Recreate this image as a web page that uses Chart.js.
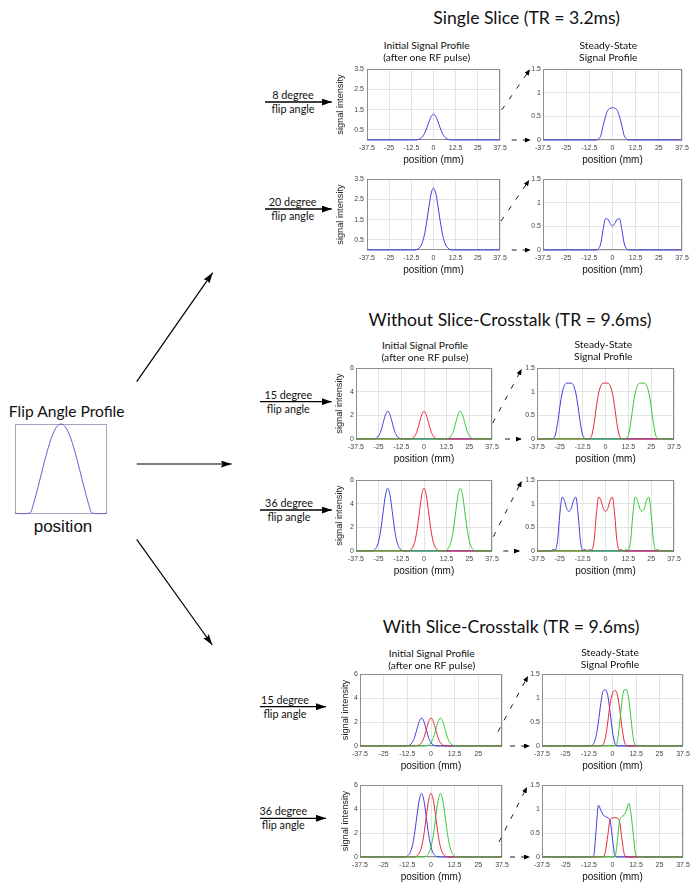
<!DOCTYPE html>
<html><head><meta charset="utf-8">
<script src="https://cdn.jsdelivr.net/npm/chart.js@4.4.1/dist/chart.umd.min.js"></script>
<style>
html,body{margin:0;padding:0;background:#fff;}
#page{position:relative;width:698px;height:891px;overflow:hidden;background:#fff;}
.cw{position:absolute;}
.txt{position:absolute;white-space:nowrap;transform:translate(-50%,-50%);line-height:1;color:#111;}
#arrows{position:absolute;left:0;top:0;}
</style></head>
<body><div id="page"></div>
<script>
// ---------------- DATA ----------------
const X_TICKS = [-37.5,-25,-12.5,0,12.5,25,37.5];
const Y_TICKS_SINGLE_INITIAL = [0.5,1.5,2.5,3.5];
const Y_TICKS_MULTI_INITIAL = [0,2,4,6];
const Y_TICKS_STEADY = [0,0.5,1,1.5];

// Flip angle profile (normalised position)
const FLIP_POS = [-1,-0.95,-0.9,-0.85,-0.8,-0.75,-0.7,-0.65,-0.6,-0.55,-0.5,-0.45,-0.4,-0.35,-0.3,-0.25,-0.2,-0.15,-0.1,-0.05,0,0.05,0.1,0.15,0.2,0.25,0.3,0.35,0.4,0.45,0.5,0.55,0.6,0.65,0.7,0.75,0.8,0.85,0.9,0.95,1];
const FLIP_VALUES = [-0.004,-0.006,-0.008,-0.008,-0.008,-0.006,-0.003,0.015,0.099,0.191,0.290,0.393,0.496,0.597,0.693,0.780,0.856,0.917,0.963,0.991,1.000,0.991,0.963,0.917,0.856,0.780,0.693,0.597,0.496,0.393,0.290,0.191,0.099,0.015,-0.003,-0.006,-0.008,-0.008,-0.008,-0.006,-0.004];

// Single slice (TR = 3.2ms), position in mm
const POS_SINGLE = [-37.5,-10,-8.75,-7.5,-6.25,-5,-3.75,-2.5,-1.25,0,1.25,2.5,3.75,5,6.25,7.5,8.75,10,37.5];
const single8Initial  = [0,0,0.02,0.06,0.16,0.33,0.60,0.91,1.17,1.27,1.17,0.91,0.60,0.33,0.16,0.06,0.02,0,0];
const single8Steady   = [0,0,0,0.02,0.10,0.31,0.50,0.63,0.67,0.68,0.67,0.63,0.50,0.31,0.10,0.02,0,0,0];
const single20Initial = [0,0,0.05,0.15,0.38,0.80,1.44,2.18,2.81,3.05,2.81,2.18,1.44,0.80,0.38,0.15,0.05,0,0];
const single20Steady  = [0,0,0,0.03,0.15,0.45,0.66,0.65,0.56,0.51,0.56,0.65,0.66,0.45,0.15,0.03,0,0,0];

// Without slice-crosstalk (TR = 9.6ms)
const POS_NO_XTALK = [-37.5,-30,-28.75,-27.5,-26.25,-25,-23.75,-22.5,-21.25,-20,-18.75,-17.5,-16.25,-15,-13.75,-12.5,-11.25,-10,-8.75,-7.5,-6.25,-5,-3.75,-2.5,-1.25,0,1.25,2.5,3.75,5,6.25,7.5,8.75,10,11.25,12.5,13.75,15,16.25,17.5,18.75,20,21.25,22.5,23.75,25,26.25,27.5,28.75,30,37.5];
const noXt15InitialBlue = [0,0,0,0.02,0.08,0.27,0.69,1.37,2.05,2.35, 2.05,1.37,0.69,0.27,0.08,0.02,0,0,0,0, 0,0,0,0,0,0,0,0,0,0, 0,0,0,0,0,0,0,0,0,0, 0,0,0,0,0,0,0,0,0,0, 0];
const noXt15InitialRed  = [0,0,0,0,0,0,0,0,0,0, 0,0,0,0,0,0,0,0,0,0.02, 0.08,0.27,0.69,1.37,2.05,2.35,2.05,1.37,0.69,0.27, 0.08,0.02,0,0,0,0,0,0,0,0, 0,0,0,0,0,0,0,0,0,0, 0];
const noXt15InitialGreen= [0,0,0,0,0,0,0,0,0,0, 0,0,0,0,0,0,0,0,0,0, 0,0,0,0,0,0,0,0,0,0, 0,0,0,0,0,0.02,0.08,0.27,0.69,1.37, 2.05,2.35,2.05,1.37,0.69,0.27,0.08,0.02,0,0, 0];
const noXt15SteadyBlue  = [0,0,0.01,0.08,0.33,0.68,0.97,1.13,1.18,1.18, 1.18,1.13,0.97,0.68,0.33,0.08,0.01,0,0,0, 0,0,0,0,0,0,0,0,0,0, 0,0,0,0,0,0,0,0,0,0, 0,0,0,0,0,0,0,0,0,0, 0];
const noXt15SteadyRed   = [0,0,0,0,0,0,0,0,0,0, 0,0,0,0,0,0,0,0,0.01,0.08, 0.33,0.68,0.97,1.13,1.18,1.18,1.18,1.13,0.97,0.68, 0.33,0.08,0.01,0,0,0,0,0,0,0, 0,0,0,0,0,0,0,0,0,0, 0];
const noXt15SteadyGreen = [0,0,0,0,0,0,0,0,0,0, 0,0,0,0,0,0,0,0,0,0, 0,0,0,0,0,0,0,0,0,0, 0,0,0,0,0.01,0.08,0.33,0.68,0.97,1.13, 1.18,1.18,1.18,1.13,0.97,0.68,0.33,0.08,0.01,0, 0];
const noXt36InitialBlue = [0,0,0.01,0.08,0.30,0.83,1.87,3.34,4.72,5.30, 4.72,3.34,1.87,0.83,0.30,0.08,0.01,0,0,0, 0,0,0,0,0,0,0,0,0,0, 0,0,0,0,0,0,0,0,0,0, 0,0,0,0,0,0,0,0,0,0, 0];
const noXt36InitialRed  = [0,0,0,0,0,0,0,0,0,0, 0,0,0,0,0,0,0,0,0.01,0.08, 0.30,0.83,1.87,3.34,4.72,5.30,4.72,3.34,1.87,0.83, 0.30,0.08,0.01,0,0,0,0,0,0,0, 0,0,0,0,0,0,0,0,0,0, 0];
const noXt36InitialGreen= [0,0,0,0,0,0,0,0,0,0, 0,0,0,0,0,0,0,0,0,0, 0,0,0,0,0,0,0,0,0,0, 0,0,0,0,0.01,0.08,0.30,0.83,1.87,3.34, 4.72,5.30,4.72,3.34,1.87,0.83,0.30,0.08,0.01,0, 0];
const noXt36SteadyBlue  = [0,0,0.03,0.02,0.22,0.78,1.14,1.07,0.90,0.84, 0.90,1.07,1.14,0.78,0.22,0.02,0.03,0,0,0, 0,0,0,0,0,0,0,0,0,0, 0,0,0,0,0,0,0,0,0,0, 0,0,0,0,0,0,0,0,0,0, 0];
const noXt36SteadyRed   = [0,0,0,0,0,0,0,0,0,0, 0,0,0,0,0,0,0,0,0.03,0.02, 0.22,0.78,1.14,1.07,0.90,0.84,0.90,1.07,1.14,0.78, 0.22,0.02,0.03,0,0,0,0,0,0,0, 0,0,0,0,0,0,0,0,0,0, 0];
const noXt36SteadyGreen = [0,0,0,0,0,0,0,0,0,0, 0,0,0,0,0,0,0,0,0,0, 0,0,0,0,0,0,0,0,0,0, 0,0,0,0,0.03,0.02,0.22,0.78,1.14,1.07, 0.90,0.84,0.90,1.07,1.14,0.78,0.22,0.02,0.03,0, 0];

// With slice-crosstalk (TR = 9.6ms)
const POS_XTALK = [-37.5,-20,-18.75,-17.5,-16.25,-15,-13.75,-12.5,-11.25,-10,-8.75,-7.5,-6.25,-5,-3.75,-2.5,-1.25,0,1.25,2.5,3.75,5,6.25,7.5,8.75,10,11.25,12.5,13.75,15,16.25,17.5,18.75,20,37.5];
const xt15InitialBlue = [0,0,0,0,0,0,0,0.02,0.08,0.27, 0.69,1.36,2.03,2.33,2.03,1.36,0.69,0.27,0.08,0.02, 0,0,0,0,0,0,0,0,0,0, 0,0,0,0,0];
const xt15InitialRed  = [0,0,0,0,0,0,0,0,0,0, 0,0.02,0.08,0.27,0.69,1.36,2.03,2.33,2.03,1.36, 0.69,0.27,0.08,0.02,0,0,0,0,0,0, 0,0,0,0,0];
const xt15InitialGreen= [0,0,0,0,0,0,0,0,0,0, 0,0,0,0,0,0.02,0.08,0.27,0.69,1.36, 2.03,2.33,2.03,1.36,0.69,0.27,0.08,0.02,0,0, 0,0,0,0,0];
const xt15SteadyBlue  = [0,0,0,0,0,0,0,0,0.01,0.05, 0.20,0.50,0.88,1.15,1.17,1.05,0.70,0.30,0.06,0, 0,0,0,0,0,0,0,0,0,0, 0,0,0,0,0];
const xt15SteadyRed   = [0,0,0,0,0,0,0,0,0,0, 0,0,0,0.03,0.18,0.50,0.88,1.10,1.16,1.08, 0.80,0.40,0.10,0.01,0,0,0,0,0,0, 0,0,0,0,0];
const xt15SteadyGreen = [0,0,0,0,0,0,0,0,0,0, 0,0,0,0,0,0,0,0,0,0.08, 0.45,0.92,1.17,1.17,0.95,0.50,0.12,0.01,0,0, 0,0,0,0,0];
const xt36InitialBlue = [0,0,0,0,0,0,0.01,0.08,0.30,0.83, 1.87,3.34,4.72,5.30,4.72,3.34,1.87,0.83,0.30,0.08, 0.01,0,0,0,0,0,0,0,0,0, 0,0,0,0,0];
const xt36InitialRed  = [0,0,0,0,0,0,0,0,0,0, 0.01,0.08,0.30,0.83,1.87,3.34,4.72,5.30,4.72,3.34, 1.87,0.83,0.30,0.08,0.01,0,0,0,0,0, 0,0,0,0,0];
const xt36InitialGreen= [0,0,0,0,0,0,0,0,0,0, 0,0,0,0,0.01,0.08,0.30,0.83,1.87,3.34, 4.72,5.30,4.72,3.34,1.87,0.83,0.30,0.08,0.01,0, 0,0,0,0,0];
const xt36SteadyBlue  = [0,0,0,0,0,0,0,0,0,0.03, 0.55,1.08,0.98,0.88,0.84,0.82,0.75,0.38,0.03,0, 0,0,0,0,0,0,0,0,0,0, 0,0,0,0,0];
const xt36SteadyRed   = [0,0,0,0,0,0,0,0,0,0, 0,0,0,0,0.12,0.45,0.78,0.81,0.82,0.81, 0.74,0.38,0.06,0,0,0,0,0,0,0, 0,0,0,0,0];
const xt36SteadyGreen = [0,0,0,0,0,0,0,0,0,0, 0,0,0,0,0,0,0,0,0,0.30, 0.75,0.84,0.88,0.98,1.12,0.85,0.40,0.03,0,0, 0,0,0,0,0];

// ---------------- DRAWING ----------------
const BLUE = 'rgb(62,62,222)', RED = 'rgb(232,38,58)', GREEN = 'rgb(52,200,52)';
const SANS = "'Liberation Sans', Arial, sans-serif";
const HUMAN = "Lato, 'Open Sans', sans-serif";
const page = document.getElementById('page');

const boxPlugin = {
  id: 'boxBorder',
  beforeDatasetsDraw(chart, args, opts) {
    const {ctx, chartArea: a} = chart;
    ctx.save();
    ctx.strokeStyle = opts.color || '#8e8e8e';
    ctx.lineWidth = 1;
    ctx.strokeRect(Math.round(a.left) + 0.5, Math.round(a.top) + 0.5, Math.round(a.right - a.left) - 1, Math.round(a.bottom - a.top) - 1);
    ctx.restore();
  }
};

function addCanvas(left, top, w, h) {
  const div = document.createElement('div');
  div.className = 'cw';
  Object.assign(div.style, {left: left + 'px', top: top + 'px', width: w + 'px', height: h + 'px'});
  const cv = document.createElement('canvas');
  cv.width = w; cv.height = h;
  cv.style.width = w + 'px'; cv.style.height = h + 'px';
  div.appendChild(cv);
  page.appendChild(div);
  return cv;
}

function makePlot(o) {
  const padT = 8, padR = 12, padB = 26;
  const W = (o.R - o.L) + o.padL + padR;
  const H = (o.B - o.T) + padT + padB;
  const cv = addCanvas(o.L - o.padL, o.T - padT, W, H);
  const datasets = o.series.map((s, i) => ({
    data: o.xs.map((x, k) => ({x: x, y: s.vals[k]})),
    borderColor: s.color, borderWidth: 1, pointRadius: 0, fill: false,
    cubicInterpolationMode: 'monotone', clip: false, order: o.series.length - i
  }));
  new Chart(cv, {
    type: 'line',
    data: {datasets},
    options: {
      responsive: false, animation: false, devicePixelRatio: 1,
      layout: {padding: {left: 0, top: padT, right: padR, bottom: 0}},
      plugins: {legend: {display: false}, tooltip: {enabled: false}, boxBorder: {color: '#8e8e8e'}},
      scales: {
        x: {
          type: 'linear', min: -37.5, max: 37.5,
          afterBuildTicks: s => { s.ticks = X_TICKS.map(v => ({value: v})); },
          afterFit: s => { s.height = padB; },
          grid: {color: '#e4e4e4', drawTicks: false, lineWidth: 1},
          border: {display: false},
          ticks: {autoSkip: false, maxRotation: 0, minRotation: 0, padding: 4,
                  font: {size: 7, family: SANS}, color: '#444',
                  callback: v => (o.hideLastX && v === 37.5) ? '' : String(v)},
          title: {display: true, text: 'position (mm)', font: {size: 10, family: SANS}, color: '#111', padding: {top: 0, bottom: 0}}
        },
        y: {
          type: 'linear', min: 0, max: o.yMax,
          afterBuildTicks: s => { s.ticks = o.yTicks.map(v => ({value: v})); },
          afterFit: s => { s.width = o.padL; },
          grid: {color: '#e4e4e4', drawTicks: false, lineWidth: 1},
          border: {display: false},
          ticks: {padding: o.yPad, font: {size: 7, family: SANS}, color: '#444', callback: v => String(v)},
          title: {display: !!o.yTitle, text: 'signal intensity', font: {size: 9.2, family: SANS}, color: '#222', padding: {top: 0, bottom: 0}}
        }
      }
    },
    plugins: [boxPlugin]
  });
}

// flip angle profile
(function () {
  const cv = addCanvas(14, 423, 94, 92);
  new Chart(cv, {
    type: 'line',
    data: {datasets: [{data: FLIP_POS.map((x, k) => ({x: x, y: FLIP_VALUES[k]})), borderColor: 'rgb(96,96,210)', borderWidth: 1, pointRadius: 0, cubicInterpolationMode: 'monotone', clip: false}]},
    options: {
      responsive: false, animation: false, devicePixelRatio: 1,
      layout: {padding: 1},
      plugins: {legend: {display: false}, tooltip: {enabled: false}, boxBorder: {color: '#a4a4c0'}},
      scales: {x: {type: 'linear', min: -1, max: 1, display: false}, y: {type: 'linear', min: -0.012, max: 1, display: false}}
    },
    plugins: [boxPlugin]
  });
})();

const leftInit = (L, T, R, B, padL, yPad, yTicks, yMax, xs, series, extra) =>
  makePlot(Object.assign({L, T, R, B, padL, yPad, yTicks, yMax, xs, series, yTitle: true}, extra || {}));
const rightSteady = (L, T, R, B, xs, series) =>
  makePlot({L, T, R, B, padL: 20, yPad: 2, yTicks: Y_TICKS_STEADY, yMax: 1.5, xs, series, yTitle: false});

// Single slice
leftInit(367, 69, 500, 140, 32, 3, Y_TICKS_SINGLE_INITIAL, 3.5, POS_SINGLE, [{vals: single8Initial, color: BLUE}]);
rightSteady(543, 69, 682, 140, POS_SINGLE, [{vals: single8Steady, color: BLUE}]);
leftInit(367, 179, 500, 250, 32, 3, Y_TICKS_SINGLE_INITIAL, 3.5, POS_SINGLE, [{vals: single20Initial, color: BLUE}]);
rightSteady(543, 179, 682, 250, POS_SINGLE, [{vals: single20Steady, color: BLUE}]);
// Without crosstalk
leftInit(356, 368, 492, 439, 22, 2, Y_TICKS_MULTI_INITIAL, 6, POS_NO_XTALK,
  [{vals: noXt15InitialBlue, color: BLUE}, {vals: noXt15InitialRed, color: RED}, {vals: noXt15InitialGreen, color: GREEN}]);
rightSteady(537, 368, 674, 439, POS_NO_XTALK,
  [{vals: noXt15SteadyBlue, color: BLUE}, {vals: noXt15SteadyRed, color: RED}, {vals: noXt15SteadyGreen, color: GREEN}]);
leftInit(356, 480, 492, 551, 22, 2, Y_TICKS_MULTI_INITIAL, 6, POS_NO_XTALK,
  [{vals: noXt36InitialBlue, color: BLUE}, {vals: noXt36InitialRed, color: RED}, {vals: noXt36InitialGreen, color: GREEN}]);
rightSteady(537, 480, 674, 551, POS_NO_XTALK,
  [{vals: noXt36SteadyBlue, color: BLUE}, {vals: noXt36SteadyRed, color: RED}, {vals: noXt36SteadyGreen, color: GREEN}]);
// With crosstalk
leftInit(360, 674, 502, 746, 20, 2, Y_TICKS_MULTI_INITIAL, 6, POS_XTALK,
  [{vals: xt15InitialBlue, color: BLUE}, {vals: xt15InitialRed, color: RED}, {vals: xt15InitialGreen, color: GREEN}], {hideLastX: true});
rightSteady(542, 674, 683, 746, POS_XTALK,
  [{vals: xt15SteadyBlue, color: BLUE}, {vals: xt15SteadyRed, color: RED}, {vals: xt15SteadyGreen, color: GREEN}]);
leftInit(360, 785, 502, 857, 20, 2, Y_TICKS_MULTI_INITIAL, 6, POS_XTALK,
  [{vals: xt36InitialBlue, color: BLUE}, {vals: xt36InitialRed, color: RED}, {vals: xt36InitialGreen, color: GREEN}]);
rightSteady(542, 785, 683, 857, POS_XTALK,
  [{vals: xt36SteadyBlue, color: BLUE}, {vals: xt36SteadyRed, color: RED}, {vals: xt36SteadyGreen, color: GREEN}]);

// ---------------- TEXT ----------------
function addText(t, x, y, size, fam) {
  const d = document.createElement('div');
  d.className = 'txt';
  d.textContent = t;
  Object.assign(d.style, {left: x + 'px', top: y + 'px', fontSize: size + 'px', fontFamily: fam});
  page.appendChild(d);
}
addText('Single Slice (TR = 3.2ms)', 526.7, 18.3, 17.6, HUMAN);
addText('Without Slice-Crosstalk (TR = 9.6ms)', 510, 320, 17.6, HUMAN);
addText('With Slice-Crosstalk (TR = 9.6ms)', 511, 627, 17.6, HUMAN);
[[426.7, 45, 608.3, 45], [425, 345, 603.3, 344], [431.7, 653, 610, 652]].forEach(([x1, y1, x2, y2]) => {
  addText('Initial Signal Profile', x1, y1, 10.3, HUMAN);
  addText('(after one RF pulse)', x1, y1 + 12, 10.3, HUMAN);
  addText('Steady-State', x2, y2, 10.3, HUMAN);
  addText('Signal Profile', x2, y2 + 12, 10.3, HUMAN);
});
[['8 degree', 293, 102], ['20 degree', 292.7, 209], ['15 degree', 288.3, 401.7], ['36 degree', 289, 510], ['15 degree', 285, 706.7], ['36 degree', 283.3, 818.3]].forEach(([t, x, y]) => {
  addText(t, x, y - 7, 10.8, HUMAN);
  addText('flip angle', x, y + 7, 10.8, HUMAN);
});
addText('Flip Angle Profile', 66.7, 411.7, 15.6, HUMAN);
addText('position', 63, 526, 17, SANS);

// ---------------- ARROWS ----------------
const NS = 'http://www.w3.org/2000/svg';
const svg = document.createElementNS(NS, 'svg');
svg.setAttribute('id', 'arrows');
svg.setAttribute('width', 698); svg.setAttribute('height', 891);
svg.innerHTML = `
<defs>
 <marker id="hBig" markerUnits="userSpaceOnUse" markerWidth="11" markerHeight="7" refX="11" refY="3.5" orient="auto"><path d="M0,0 L11,3.5 L0,7 L2,3.5 z" fill="#000"/></marker>
 <marker id="hRow" markerUnits="userSpaceOnUse" markerWidth="10" markerHeight="7" refX="10" refY="3.5" orient="auto"><path d="M0,0 L10,3.5 L0,7 z" fill="#000"/></marker>
 <marker id="hDash" markerUnits="userSpaceOnUse" markerWidth="6" markerHeight="5" refX="6" refY="2.5" orient="auto"><path d="M0,0 L6,2.5 L0,5 z" fill="#000"/></marker>
</defs>`;
function line(x1, y1, x2, y2, w, marker, dash) {
  const l = document.createElementNS(NS, 'line');
  l.setAttribute('x1', x1); l.setAttribute('y1', y1); l.setAttribute('x2', x2); l.setAttribute('y2', y2);
  l.setAttribute('stroke', '#000'); l.setAttribute('stroke-width', w);
  if (dash) l.setAttribute('stroke-dasharray', dash);
  l.setAttribute('marker-end', 'url(#' + marker + ')');
  svg.appendChild(l);
}
line(136.7, 381.7, 212.7, 272.7, 1.2, 'hBig');
line(136.7, 464, 231.7, 464, 1.2, 'hBig');
line(136.7, 539.3, 212.3, 645, 1.2, 'hBig');
[[265, 102, 331.7], [265, 209, 331.7], [260, 401.7, 331.7], [260, 510, 331.7], [260, 706.7, 326], [260, 818.3, 326]].forEach(([x1, y, x2]) => line(x1, y, x2, y, 1.3, 'hRow'));
[[501.7, 110, 530, 69.3, 511.7, 140, 530.7], [501, 221, 529.3, 180, 511.7, 250, 530.7],
 [492.7, 423, 521.7, 369, 505, 439, 521.7], [493.3, 536.7, 521.7, 481, 503.3, 551, 520],
 [498, 731.7, 528, 676, 510, 746, 530], [499, 842, 527, 787, 510, 857, 530]].forEach(([a, b, c, d, e, f, g]) => {
  line(a, b, c, d, 0.9, 'hDash', '5 8');
  line(e, f, g, f, 0.9, 'hDash', '5 6');
});
page.appendChild(svg);
</script>
</body></html>
